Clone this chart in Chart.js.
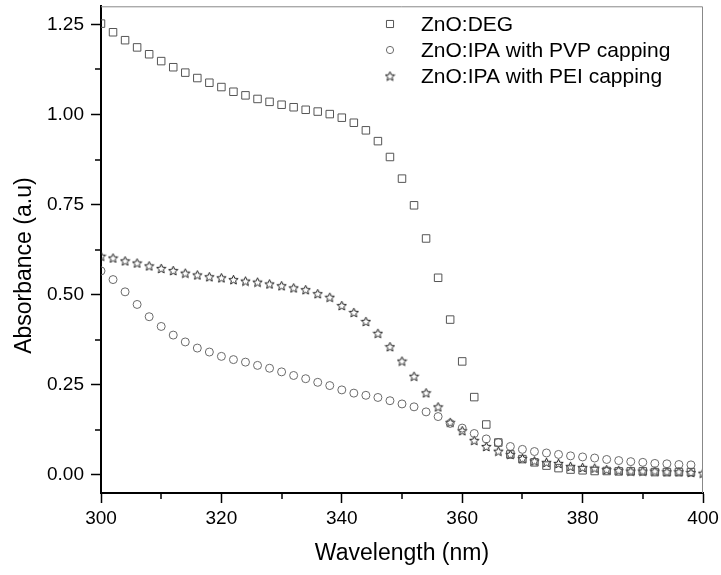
<!DOCTYPE html>
<html>
<head>
<meta charset="utf-8">
<script src="https://cdn.jsdelivr.net/npm/chart.js@4.4.0/dist/chart.umd.min.js"></script>
<style>
  html, body { margin: 0; padding: 0; background: #fff; }
  #wrap { width: 721px; height: 575px; }
</style>
</head>
<body>
<div id="wrap"><canvas id="chart" width="721" height="575"></canvas></div>
<script>
// wavelength (nm), one point every 2 nm
const wavelengths = [300, 302, 304, 306, 308, 310, 312, 314, 316, 318,
                     320, 322, 324, 326, 328, 330, 332, 334, 336, 338,
                     340, 342, 344, 346, 348, 350, 352, 354, 356, 358,
                     360, 362, 364, 366, 368, 370, 372, 374, 376, 378,
                     380, 382, 384, 386, 388, 390, 392, 394, 396, 398, 400];

const absDEG = [1.252, 1.228, 1.206, 1.186, 1.167, 1.148, 1.131, 1.116, 1.101, 1.088,
                1.076, 1.063, 1.053, 1.043, 1.035, 1.027, 1.020, 1.013, 1.008, 1.001,
                0.991, 0.977, 0.956, 0.926, 0.882, 0.822, 0.748, 0.656, 0.547, 0.431,
                0.315, 0.216, 0.140, 0.090, 0.057, 0.044, 0.035, 0.026, 0.019, 0.015,
                0.013, 0.011, 0.011, 0.010, 0.010, 0.010, 0.008, 0.008, 0.008, 0.008, null];

const absPVP = [0.566, 0.542, 0.508, 0.473, 0.439, 0.412, 0.388, 0.369, 0.352, 0.341,
                0.329, 0.320, 0.313, 0.304, 0.296, 0.286, 0.276, 0.267, 0.257, 0.248,
                0.236, 0.227, 0.221, 0.215, 0.206, 0.197, 0.189, 0.175, 0.162, 0.143,
                0.130, 0.115, 0.100, 0.090, 0.079, 0.071, 0.065, 0.061, 0.057, 0.053,
                0.050, 0.047, 0.043, 0.040, 0.037, 0.035, 0.032, 0.031, 0.029, 0.028, null];

const absPEI = [0.607, 0.602, 0.594, 0.588, 0.580, 0.573, 0.567, 0.560, 0.555, 0.550,
                0.547, 0.542, 0.538, 0.535, 0.530, 0.525, 0.519, 0.514, 0.503, 0.493,
                0.470, 0.451, 0.426, 0.393, 0.356, 0.316, 0.274, 0.228, 0.189, 0.146,
                0.123, 0.096, 0.079, 0.066, 0.057, 0.046, 0.039, 0.035, 0.032, 0.024,
                0.021, 0.019, 0.015, 0.013, 0.011, 0.011, 0.011, 0.009, 0.009, 0.007, 0.005];

const seriesLabels = ['ZnO:DEG', 'ZnO:IPA with PVP capping', 'ZnO:IPA with PEI capping'];

const xTicks = [300, 320, 340, 360, 380, 400];
const xMinorTicks = [310, 330, 350, 370, 390];
const yTicks = [0, 0.25, 0.5, 0.75, 1.0, 1.25];
const yMinorTicks = [0.125, 0.375, 0.625, 0.875, 1.125];

const FONT = '"Liberation Sans", Arial, sans-serif';

function toPoints(ys) {
  return wavelengths.map((x, i) => ({ x: x, y: ys[i] }));
}

// little hollow five point star used as marker
function makeStar(size, color) {
  const c = document.createElement('canvas');
  c.width = size;
  c.height = size;
  const ctx = c.getContext('2d');
  const cx = size / 2, cy = size / 2 + 0.5;
  const outer = size / 2 - 0.6, inner = outer * 0.45;
  ctx.beginPath();
  for (let i = 0; i < 10; i++) {
    const r = i % 2 === 0 ? outer : inner;
    const a = -Math.PI / 2 + i * Math.PI / 5;
    const px = cx + r * Math.cos(a), py = cy + r * Math.sin(a);
    if (i === 0) ctx.moveTo(px, py); else ctx.lineTo(px, py);
  }
  ctx.closePath();
  ctx.strokeStyle = color;
  ctx.lineWidth = 1;
  ctx.stroke();
  return c;
}

const starImg = makeStar(11, '#222');

// minor ticks plus the thin top/right frame
const frameTicks = {
  id: 'frameTicks',
  afterDraw(chart) {
    const { ctx, chartArea } = chart;
    const xs = chart.scales.x, ys = chart.scales.y;
    ctx.save();
    ctx.strokeStyle = '#888';
    ctx.lineWidth = 1;
    ctx.beginPath();
    ctx.moveTo(chartArea.left, chartArea.top + 0.5);
    ctx.lineTo(chartArea.right - 0.5, chartArea.top + 0.5);
    ctx.lineTo(chartArea.right - 0.5, chartArea.bottom);
    ctx.stroke();

    ctx.strokeStyle = '#000';
    ctx.lineWidth = 1.5;
    ctx.beginPath();
    xMinorTicks.forEach(v => {
      const px = Math.round(xs.getPixelForValue(v));
      ctx.moveTo(px, chartArea.bottom);
      ctx.lineTo(px, chartArea.bottom + 6);
    });
    yMinorTicks.forEach(v => {
      const py = Math.round(ys.getPixelForValue(v));
      ctx.moveTo(chartArea.left, py);
      ctx.lineTo(chartArea.left - 6, py);
    });
    ctx.stroke();
    ctx.restore();
  }
};

// legend sitting in the upper right of the plot
const cornerLegend = {
  id: 'cornerLegend',
  afterDraw(chart) {
    const ctx = chart.ctx;
    const rows = [24, 50, 76];
    ctx.save();
    chart.data.datasets.forEach((ds, i) => {
      ctx.strokeStyle = ds.borderColor;
      ctx.fillStyle = 'rgba(0,0,0,0)';
      ctx.lineWidth = 1;
      Chart.helpers.drawPoint(ctx, {
        pointStyle: ds.pointStyle,
        radius: ds.pointStyle === 'circle' ? 3.6 : 5,
        rotation: 0,
        borderWidth: 1
      }, 390, rows[i]);
      ctx.fillStyle = '#000';
      ctx.font = '21px ' + FONT;
      ctx.textBaseline = 'middle';
      ctx.textAlign = 'left';
      ctx.fillText(ds.label, 421, rows[i] + 1);
    });
    ctx.restore();
  }
};

new Chart(document.getElementById('chart'), {
  type: 'scatter',
  data: {
    datasets: [
      {
        label: seriesLabels[0],
        data: toPoints(absDEG),
        pointStyle: 'rect',
        pointRadius: 5.3,
        borderWidth: 1,
        borderColor: '#555',
        backgroundColor: 'rgba(0,0,0,0)',
        clip: 0
      },
      {
        label: seriesLabels[1],
        data: toPoints(absPVP),
        pointStyle: 'circle',
        pointRadius: 4,
        borderWidth: 1,
        borderColor: '#6a6a6a',
        backgroundColor: 'rgba(0,0,0,0)',
        clip: 0
      },
      {
        label: seriesLabels[2],
        data: toPoints(absPEI),
        pointStyle: starImg,
        borderColor: '#222',
        backgroundColor: 'rgba(0,0,0,0)',
        clip: 0
      }
    ]
  },
  options: {
    responsive: false,
    animation: false,
    events: [],
    layout: { padding: { left: 0, right: 18, top: 1, bottom: 0 } },
    plugins: {
      legend: { display: false },
      tooltip: { enabled: false }
    },
    scales: {
      x: {
        type: 'linear',
        min: 300,
        max: 400,
        afterBuildTicks: (scale) => { scale.ticks = xTicks.map(v => ({ value: v })); },
        afterFit: (scale) => {
          scale.height = 82;
          scale.paddingLeft = 0;
          scale.paddingRight = 0;
        },
        grid: { drawOnChartArea: false, tickLength: 10, tickColor: '#000', tickWidth: 1.5 },
        border: { color: '#000', width: 2 },
        ticks: { color: '#000', font: { family: FONT, size: 19 }, padding: 4, maxRotation: 0 },
        title: {
          display: true,
          text: 'Wavelength (nm)',
          color: '#000',
          font: { family: FONT, size: 23 },
          padding: { top: 0, bottom: 8 }
        }
      },
      y: {
        min: -0.05,
        max: 1.3,
        afterBuildTicks: (scale) => { scale.ticks = yTicks.map(v => ({ value: v })); },
        afterFit: (scale) => {
          scale.width = 101;
          scale.paddingTop = 0;
          scale.paddingBottom = 0;
        },
        grid: { drawOnChartArea: false, tickLength: 10, tickColor: '#000', tickWidth: 1.5 },
        border: { color: '#000', width: 2 },
        ticks: {
          color: '#000',
          font: { family: FONT, size: 19 },
          padding: 7,
          callback: (v) => v.toFixed(2)
        },
        title: {
          display: true,
          // trailing spaces nudge the rotated title a bit lower, as in the source figure
          text: 'Absorbance (a.u)     ',
          color: '#000',
          font: { family: FONT, size: 23 },
          padding: { top: 11, bottom: 0 }
        }
      }
    }
  },
  plugins: [frameTicks, cornerLegend]
});
</script>
</body>
</html>
